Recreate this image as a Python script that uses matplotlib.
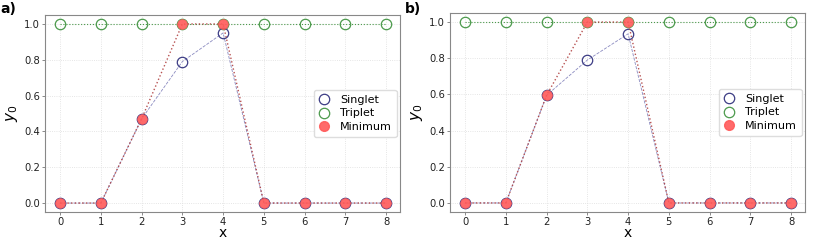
import matplotlib
matplotlib.use("Agg")
import matplotlib.pyplot as plt
from matplotlib.lines import Line2D

x = [0, 1, 2, 3, 4, 5, 6, 7, 8]
singlet_a = [0, 0, 0.47, 0.79, 0.95, 0, 0, 0, 0]
triplet_a = [1, 1, 1, 1, 1, 1, 1, 1, 1]
minimum_a = [0, 0, 0.47, 1, 1, 0, 0, 0, 0]
singlet_b = [0, 0, 0.595, 0.79, 0.935, 0, 0, 0, 0]
triplet_b = [1, 1, 1, 1, 1, 1, 1, 1, 1]
minimum_b = [0, 0, 0.595, 1, 1, 0, 0, 0, 0]
panel_labels = ["a)", "b)"]
yticks = [0.0, 0.2, 0.4, 0.6, 0.8, 1.0]

S_EDGE = '#3d3d85'
T_COL = '#4c9a4c'
M_COL = '#ff5a5a'

fig = plt.figure(figsize=(8.13, 2.41), dpi=100)
axes_rects = [[45/813, 29/241, 355/813, 197/241], [450/813, 29/241, 355/813, 199/241]]
datasets = [(singlet_a, triplet_a, minimum_a), (singlet_b, triplet_b, minimum_b)]

for rect, (s, t, m), lab in zip(axes_rects, datasets, panel_labels):
    ax = fig.add_axes(rect)
    ax.plot(x, t, ls=':', lw=0.8, color=T_COL, marker='o', ms=7.5,
            mfc='none', mec=T_COL, mew=0.9, zorder=2)
    ax.plot(x, s, ls='--', lw=0.6, color='#8a8ac0', marker='o', ms=7.5,
            mfc='none', mec=S_EDGE, mew=0.9, zorder=3)
    ax.plot(x, m, ls=':', lw=1.0, color='#b04040', marker='o', ms=7,
            mfc=M_COL, mec=M_COL, mew=0.5, alpha=0.9, zorder=4)
    ax.set_xlim(-0.37, 8.34)
    ax.set_ylim(-0.05, 1.05)
    ax.set_xticks(x)
    ax.set_yticks(yticks)
    ax.set_yticklabels([f"{v:.1f}" for v in yticks])
    ax.tick_params(labelsize=7.2, length=2, width=0.6, pad=1.5, color='#777777', labelcolor='#222222')
    ax.grid(True, ls=':', lw=0.6, color='#dddddd')
    for sp in ax.spines.values():
        sp.set_color('#888888')
        sp.set_linewidth(0.8)
    ax.set_xlabel('x', fontsize=10, labelpad=-0.5)
    ax.set_ylabel('$y_0$', fontsize=11, labelpad=3)
    handles = [
        Line2D([], [], ls='none', marker='o', ms=7.5, mfc='none', mec=S_EDGE, mew=0.9),
        Line2D([], [], ls='none', marker='o', ms=7.5, mfc='none', mec=T_COL, mew=0.9),
        Line2D([], [], ls='none', marker='o', ms=7, mfc=M_COL, mec=M_COL, alpha=0.9),
    ]
    ax.legend(handles, ['Singlet', 'Triplet', 'Minimum'],
              loc='center right', fontsize=8, frameon=True, framealpha=1,
              edgecolor='#dddddd', handletextpad=0.9, handlelength=1.0, borderpad=0.45,
              labelspacing=0.35, fancybox=True, bbox_to_anchor=(1.0, 0.50),
              borderaxespad=0.3)
    fig.text(rect[0] - 45/813, 0.99, lab, fontsize=10, fontweight='bold', va='top', ha='left')

fig.savefig('out.png', dpi=100)
